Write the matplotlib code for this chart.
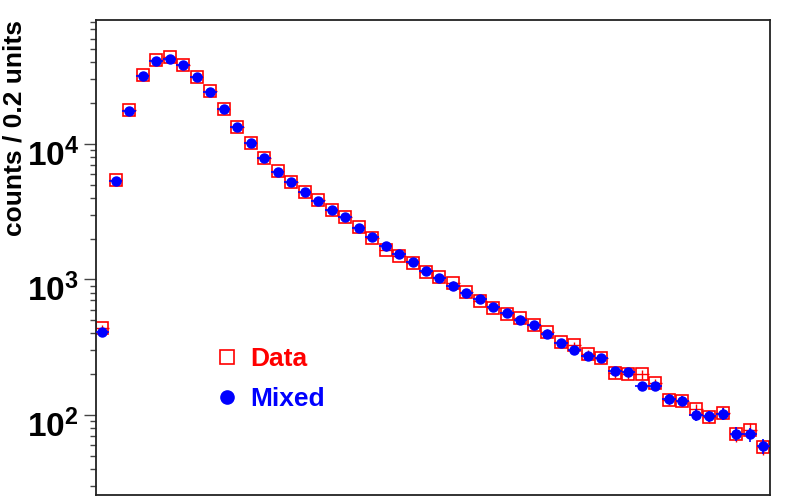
import numpy as np
import matplotlib.pyplot as plt
import matplotlib.transforms as mtransforms
from matplotlib.lines import Line2D

plt.rcParams['font.family'] = ['Liberation Sans', 'DejaVu Sans']
plt.rcParams['mathtext.fontset'] = 'custom'
plt.rcParams['mathtext.rm'] = 'Liberation Sans:bold'
plt.rcParams['mathtext.bf'] = 'Liberation Sans:bold'

# Бинове по 0.2 единици
bin_width = 0.2
n_bins = 50
x = (np.arange(n_bins) + 0.5) * bin_width

# Смесени събития (сини точки)
mixed = [412, 5360, 17610, 31920, 40990, 42400, 38100, 31390, 24320, 18130,
         13400, 10170, 7880, 6245, 5215, 4425, 3815, 3275, 2877, 2411,
         2059, 1769, 1550, 1346, 1161, 1031, 895, 795, 718, 627,
         569, 500, 464, 398, 338, 300, 271, 262, 211, 209,
         163, 163, 131, 127, 100, 98, 102, 73, 72, 59]

# Данни (червени квадрати)
data = [439, 5450, 17800, 32500, 41500, 43500, 38500, 31000, 24500, 18000,
        13400, 10100, 7900, 6300, 5250, 4450, 3850, 3250, 2900, 2420,
        2030, 1651, 1490, 1317, 1141, 1043, 947, 804, 694, 613,
        560, 520, 464, 412, 346, 327, 283, 263, 203, 200,
        200, 171, 129, 127, 111, 97, 104, 72, 78, 58]

mixed = np.array(mixed, dtype=float)
data = np.array(data, dtype=float)

fig = plt.figure(figsize=(7.88, 4.96), dpi=100)
ax = fig.add_axes([95.5 / 788, 1.5 / 496, (770 - 95.5) / 788, (494.5 - 20) / 496])

ax.errorbar(x, data, xerr=bin_width / 2, yerr=np.sqrt(data), fmt='s',
            color='red', mfc='none', mec='red', ms=8.5, mew=1.2, elinewidth=1,
            capsize=0, zorder=2)
ax.errorbar(x, mixed, xerr=bin_width / 2, yerr=np.sqrt(mixed), fmt='o',
            color='blue', ms=6.5, elinewidth=1.2, capsize=0, zorder=3)

ax.set_yscale('log')
ax.set_xlim(0, 10)
ax.set_ylim(25.9, 82200)

ax.set_yticks([100, 1000, 10000])
ax.set_yticklabels([r'$\mathbf{10^{2}}$', r'$\mathbf{10^{3}}$', r'$\mathbf{10^{4}}$'])
ax.tick_params(axis='y', which='major', length=9, width=1, direction='out',
               labelsize=24, pad=3, color='#444444')
ax.tick_params(axis='y', which='minor', length=4.5, width=1, direction='out',
               color='#444444')
ax.tick_params(axis='y', which='minor', labelleft=False)
ax.tick_params(axis='x', which='both', length=0, labelbottom=False)
# етикетите малко по-ниско, както в ROOT
shift = mtransforms.ScaledTranslation(0, -0.08, fig.dpi_scale_trans)
for lbl in ax.get_yticklabels():
    lbl.set_transform(lbl.get_transform() + shift)

for s in ax.spines.values():
    s.set_linewidth(1.3)
    s.set_color('#222222')

ax.set_ylabel('counts / 0.2 units', fontsize=19, fontweight='bold', loc='top')
ax.yaxis.set_label_coords(-0.103, 1.0)

handles = [Line2D([], [], marker='s', ls='none', mfc='none', mec='red', ms=10.5, mew=1.2),
           Line2D([], [], marker='o', ls='none', color='blue', ms=9.5)]
leg = ax.legend(handles, ['Data', 'Mixed'], loc='upper left',
                bbox_to_anchor=(0.176, 0.311), frameon=False,
                prop={'weight': 'bold', 'size': 19}, labelspacing=0.62,
                handletextpad=0.35, handlelength=1.0, borderpad=0,
                borderaxespad=0)
leg.get_texts()[0].set_color('red')
leg.get_texts()[1].set_color('blue')

plt.savefig('out.png', dpi=100)
